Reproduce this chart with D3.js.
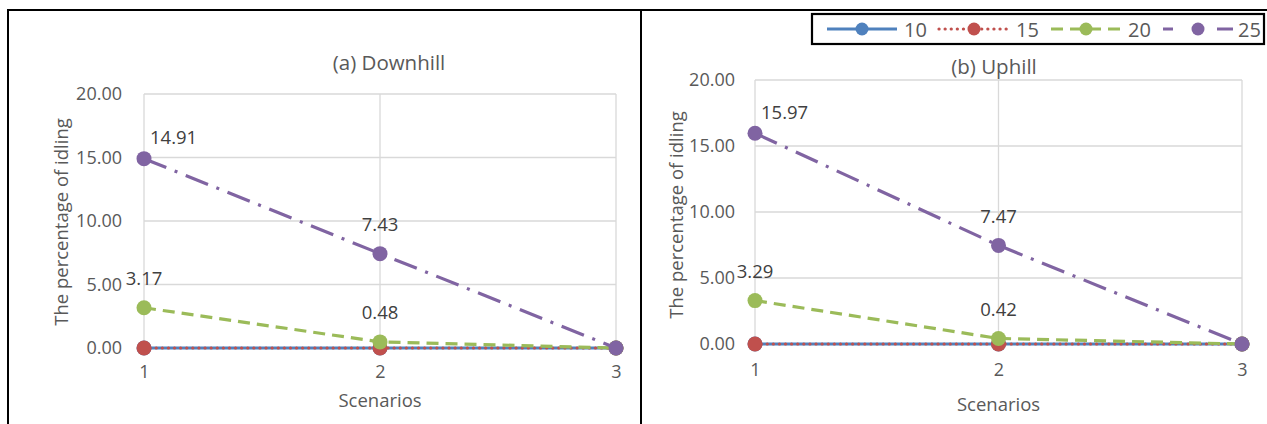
<!DOCTYPE html>
<html><head><meta charset="utf-8">
<script src="https://cdn.jsdelivr.net/npm/d3@7/dist/d3.min.js"></script>
<style>body{margin:0;background:#fff}svg{display:block}text{font-family:"Open Sans",sans-serif}</style>
</head><body>
<svg id="c" width="1267" height="424"></svg>
<script>
const scenarios = [1, 2, 3];
const seriesNames = ["10", "15", "20", "25"];
const yTicks = [0, 5, 10, 15, 20];
const downhill10 = [0, 0, 0];
const downhill15 = [0, 0, 0];
const downhill20 = [3.17, 0.48, 0];
const downhill25 = [14.91, 7.43, 0];
const uphill10 = [0, 0, 0];
const uphill15 = [0, 0, 0];
const uphill20 = [3.29, 0.42, 0];
const uphill25 = [15.97, 7.47, 0];
const labelledSeries = ["20", "25"];

const colors = {"10": "#4F81BD", "15": "#C0504D", "20": "#9BBB59", "25": "#8064A2"};
const dash = {"10": null, "15": "0.1,6", "20": "12,7", "25": "24,9,3,9"};
const caps = {"10": "butt", "15": "round", "20": "butt", "25": "butt"};

const svg = d3.select("#c");

// frame
svg.append("line").attr("x1", 7).attr("x2", 1267).attr("y1", 10).attr("y2", 10).attr("stroke", "#000").attr("stroke-width", 2);
svg.append("line").attr("x1", 8).attr("x2", 8).attr("y1", 9).attr("y2", 424).attr("stroke", "#000").attr("stroke-width", 2);
svg.append("line").attr("x1", 641).attr("x2", 641).attr("y1", 9).attr("y2", 424).attr("stroke", "#000").attr("stroke-width", 2);

function panel(cfg) {
  const x = d3.scaleLinear().domain([1, 3]).range([cfg.x0, cfg.x1]);
  const y = d3.scaleLinear().domain([0, 20]).range([cfg.y0, cfg.y1]);
  const g = svg.append("g");
  // gridlines
  g.selectAll(".hg").data(yTicks).join("line")
    .attr("x1", x(1)).attr("x2", x(3)).attr("y1", d => y(d)).attr("y2", d => y(d))
    .attr("stroke", "#D9D9D9").attr("stroke-width", 1.3);
  g.selectAll(".vg").data(scenarios).join("line")
    .attr("x1", d => x(d)).attr("x2", d => x(d)).attr("y1", y(0)).attr("y2", y(20))
    .attr("stroke", "#D9D9D9").attr("stroke-width", 1.3);
  // axes
  const ya = d3.axisLeft(y).tickValues(yTicks).tickFormat(d3.format(".2f")).tickSize(0).tickPadding(0);
  const yg = g.append("g").attr("transform", `translate(${cfg.yLabelX},0)`).call(ya);
  yg.select(".domain").remove();
  yg.selectAll("text").attr("font-size", 18).attr("fill", "#595959").attr("font-family", '"Open Sans",sans-serif');
  const xa = d3.axisBottom(x).tickValues(scenarios).tickFormat(d3.format("d")).tickSize(0).tickPadding(0);
  const xg = g.append("g").attr("transform", `translate(0,${cfg.xLabelY})`).call(xa);
  xg.select(".domain").remove();
  xg.selectAll("text").attr("font-size", 18).attr("fill", "#595959").attr("dy", "0.35em").attr("font-family", '"Open Sans",sans-serif');
  // titles
  g.append("text").attr("x", cfg.titleX).attr("y", cfg.titleY).attr("text-anchor", "middle").attr("dominant-baseline", "central")
    .attr("font-size", 20.5).attr("fill", "#595959").text(cfg.title);
  g.append("text").attr("x", (x(1) + x(3)) / 2).attr("y", cfg.xTitleY).attr("text-anchor", "middle").attr("dominant-baseline", "central")
    .attr("font-size", 18.5).attr("fill", "#595959").text("Scenarios");
  g.append("text").attr("transform", `translate(${cfg.yTitleX},${cfg.yTitleY}) rotate(-90)`).attr("text-anchor", "middle").attr("dominant-baseline", "central")
    .attr("font-size", 18.5).attr("fill", "#595959").text("The percentage of idling");
  // series
  const line = d3.line().x((d, i) => x(scenarios[i])).y(d => y(d));
  cfg.series.forEach((vals, si) => {
    const name = seriesNames[si];
    g.append("path").datum(vals).attr("d", line).attr("fill", "none")
      .attr("stroke", colors[name]).attr("stroke-width", 3.2)
      .attr("stroke-dasharray", dash[name]).attr("stroke-linecap", caps[name]);
    g.selectAll(null).data(vals).join("circle")
      .attr("cx", (d, i) => x(scenarios[i])).attr("cy", d => y(d)).attr("r", 7.5)
      .attr("fill", colors[name]);
  });
  // labels
  cfg.series.forEach((vals, si) => {
    const name = seriesNames[si];
    if (!labelledSeries.includes(name)) return;
    vals.forEach((v, i) => {
      if (v === 0) return;
      const right = name === "25" && i === 0;
      g.append("text")
        .attr("x", x(scenarios[i]) + (right ? 6 : 0))
        .attr("y", y(v) - (right ? 22 : 30))
        .attr("text-anchor", right ? "start" : "middle").attr("dominant-baseline", "central")
        .attr("font-size", 18.5).attr("fill", "#404040").text(v.toFixed(2));
    });
  });
}

panel({x0: 144, x1: 616, y0: 348, y1: 94, yLabelX: 122, xLabelY: 372, xTitleY: 399,
  titleX: 389, titleY: 62, yTitleX: 60, yTitleY: 222, title: "(a) Downhill",
  series: [downhill10, downhill15, downhill20, downhill25]});
panel({x0: 755, x1: 1242, y0: 344, y1: 80, yLabelX: 735, xLabelY: 370, xTitleY: 403,
  titleX: 994, titleY: 66, yTitleX: 675, yTitleY: 215, title: "(b) Uphill",
  series: [uphill10, uphill15, uphill20, uphill25]});

// legend
const lg = svg.append("g");
lg.append("rect").attr("x", 812).attr("y", 14).attr("width", 452).attr("height", 30)
  .attr("fill", "#fff").attr("stroke", "#000").attr("stroke-width", 2.2);
const legX = [827, 939, 1051, 1163];
seriesNames.forEach((name, i) => {
  const lx = legX[i];
  lg.append("line").attr("x1", lx).attr("x2", lx + 70).attr("y1", 29).attr("y2", 29)
    .attr("stroke", colors[name]).attr("stroke-width", 3.2)
    .attr("stroke-dasharray", name === "25" ? "10,14,0,30,18" : dash[name]).attr("stroke-linecap", caps[name]);
  lg.append("circle").attr("cx", lx + 35).attr("cy", 29).attr("r", 6.5).attr("fill", colors[name]);
  lg.append("text").attr("x", lx + (name === "25" ? 75 : 77)).attr("y", 29).attr("dominant-baseline", "central")
    .attr("font-size", 20).attr("fill", "#595959").text(name);
});
</script>
</body></html>
